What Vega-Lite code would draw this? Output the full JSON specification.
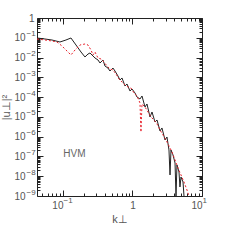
{
  "$schema": "https://vega.github.io/schema/vega-lite/v6.json",
  "width": 165,
  "height": 178,
  "autosize": {"type": "none"},
  "padding": {"left": 37, "top": 18, "right": 47, "bottom": 55},
  "background": "white",
  "config": {
    "view": {"stroke": null},
    "axis": {
      "domainColor": "#222",
      "tickColor": "#222",
      "labelFont": "Liberation Sans",
      "titleFont": "Liberation Sans",
      "labelFontSize": 10,
      "titleFontSize": 11,
      "labelColor": "#555",
      "titleColor": "#555",
      "titleFontWeight": "normal",
      "grid": false,
      "labelOverlap": false,
      "labelBound": false,
      "labelFlush": false
    }
  },
  "datasets": {
    "spectra": [
      {"s": "black", "k": 0.0423, "E": 9.75e-2},
      {"s": "black", "k": 0.0551, "E": 8.67e-2},
      {"s": "black", "k": 0.0695, "E": 7.72e-2},
      {"s": "black", "k": 0.0905, "E": 6.12e-2},
      {"s": "black", "k": 0.1104, "E": 7.72e-2},
      {"s": "black", "k": 0.1303, "E": 9.75e-2},
      {"s": "black", "k": 0.1539, "E": 4.32e-2},
      {"s": "black", "k": 0.1816, "E": 1.91e-2},
      {"s": "black", "k": 0.2073, "E": 1.07e-2},
      {"s": "black", "k": 0.2291, "E": 1.51e-2},
      {"s": "black", "k": 0.2446, "E": 1.70e-2},
      {"s": "black", "k": 0.2704, "E": 1.20e-2},
      {"s": "black", "k": 0.2886, "E": 9.50e-3},
      {"s": "black", "k": 0.3192, "E": 7.53e-3},
      {"s": "black", "k": 0.3408, "E": 5.31e-3},
      {"s": "black", "k": 0.3767, "E": 7.53e-3},
      {"s": "black", "k": 0.4018, "E": 3.74e-3},
      {"s": "black", "k": 0.4436, "E": 2.96e-3},
      {"s": "black", "k": 0.4742, "E": 2.09e-3},
      {"s": "black", "k": 0.5236, "E": 2.96e-3},
      {"s": "black", "k": 0.5598, "E": 2.09e-3},
      {"s": "black", "k": 0.6180, "E": 1.17e-3},
      {"s": "black", "k": 0.6607, "E": 7.34e-4},
      {"s": "black", "k": 0.7063, "E": 9.27e-4},
      {"s": "black", "k": 0.7798, "E": 3.65e-4},
      {"s": "black", "k": 0.8337, "E": 4.61e-4},
      {"s": "black", "k": 0.9204, "E": 2.04e-4},
      {"s": "black", "k": 0.9840, "E": 2.57e-4},
      {"s": "black", "k": 1.086, "E": 1.62e-4},
      {"s": "black", "k": 1.161, "E": 1.01e-4},
      {"s": "black", "k": 1.282, "E": 8.04e-5},
      {"s": "black", "k": 1.370, "E": 1.14e-4},
      {"s": "black", "k": 1.514, "E": 3.17e-5},
      {"s": "black", "k": 1.617, "E": 4.49e-5},
      {"s": "black", "k": 1.786, "E": 9.89e-6},
      {"s": "black", "k": 1.909, "E": 1.77e-5},
      {"s": "black", "k": 2.109, "E": 5.52e-6},
      {"s": "black", "k": 2.254, "E": 6.97e-6},
      {"s": "black", "k": 2.489, "E": 1.94e-6},
      {"s": "black", "k": 2.655, "E": 2.75e-6},
      {"s": "black", "k": 2.938, "E": 6.80e-7},
      {"s": "black", "k": 3.135, "E": 9.63e-7},
      {"s": "black", "k": 3.350, "E": 2.12e-7},
      {"s": "black", "k": 3.467, "E": 1.16e-8},
      {"s": "black", "k": 3.581, "E": 2.12e-7},
      {"s": "black", "k": 3.828, "E": 1.19e-7},
      {"s": "black", "k": 4.093, "E": 4.67e-8},
      {"s": "black", "k": 4.227, "E": 1.0e-9},
      {"s": "black", "k": 4.365, "E": 3.70e-8},
      {"s": "black", "k": 4.667, "E": 1.64e-8},
      {"s": "black", "k": 4.819, "E": 2.86e-9},
      {"s": "black", "k": 4.989, "E": 9.16e-9},
      {"s": "black", "k": 5.333, "E": 5.12e-9},
      {"s": "black", "k": 5.508, "E": 1.0e-9},
      {"s": "red", "k": 0.0423, "E": 8.67e-2},
      {"s": "red", "k": 0.0551, "E": 7.72e-2},
      {"s": "red", "k": 0.0695, "E": 6.87e-2},
      {"s": "red", "k": 0.0820, "E": 6.12e-2},
      {"s": "red", "k": 0.0968, "E": 3.84e-2},
      {"s": "red", "k": 0.1104, "E": 2.41e-2},
      {"s": "red", "k": 0.1303, "E": 1.35e-2},
      {"s": "red", "k": 0.1489, "E": 2.41e-2},
      {"s": "red", "k": 0.1757, "E": 4.32e-2},
      {"s": "red", "k": 0.2073, "E": 4.85e-2},
      {"s": "red", "k": 0.2291, "E": 4.32e-2},
      {"s": "red", "k": 0.2529, "E": 2.41e-2},
      {"s": "red", "k": 0.2704, "E": 1.35e-2},
      {"s": "red", "k": 0.2886, "E": 1.91e-2},
      {"s": "red", "k": 0.3192, "E": 9.50e-3},
      {"s": "red", "k": 0.3524, "E": 8.46e-3},
      {"s": "red", "k": 0.3893, "E": 5.97e-3},
      {"s": "red", "k": 0.4295, "E": 3.74e-3},
      {"s": "red", "k": 0.4742, "E": 2.64e-3},
      {"s": "red", "k": 0.5236, "E": 2.35e-3},
      {"s": "red", "k": 0.5794, "E": 1.48e-3},
      {"s": "red", "k": 0.6397, "E": 8.24e-4},
      {"s": "red", "k": 0.7063, "E": 5.81e-4},
      {"s": "red", "k": 0.7798, "E": 4.10e-4},
      {"s": "red", "k": 0.8610, "E": 3.25e-4},
      {"s": "red", "k": 0.9506, "E": 2.89e-4},
      {"s": "red", "k": 1.052, "E": 1.62e-4},
      {"s": "red", "k": 1.161, "E": 1.14e-4},
      {"s": "red", "k": 1.282, "E": 5.05e-5},
      {"s": "red", "k": 1.324, "E": 1.72e-6},
      {"s": "red", "k": 1.370, "E": 4.49e-5},
      {"s": "red", "k": 1.514, "E": 3.17e-5},
      {"s": "red", "k": 1.671, "E": 1.77e-5},
      {"s": "red", "k": 1.845, "E": 9.89e-6},
      {"s": "red", "k": 2.039, "E": 6.97e-6},
      {"s": "red", "k": 2.254, "E": 4.38e-6},
      {"s": "red", "k": 2.489, "E": 2.18e-6},
      {"s": "red", "k": 2.748, "E": 1.22e-6},
      {"s": "red", "k": 3.034, "E": 6.80e-7},
      {"s": "red", "k": 3.350, "E": 3.38e-7},
      {"s": "red", "k": 3.700, "E": 1.68e-7},
      {"s": "red", "k": 4.093, "E": 6.62e-8},
      {"s": "red", "k": 4.519, "E": 2.61e-8},
      {"s": "red", "k": 4.989, "E": 1.16e-8},
      {"s": "red", "k": 5.508, "E": 5.12e-9},
      {"s": "red", "k": 6.081, "E": 2.01e-9},
      {"s": "red", "k": 6.501, "E": 1.0e-9}
    ],
    "labels": [{"k": 0.146, "E": 1.33e-7, "text": "HVM"}]
  },
  "data": {"name": "spectra"},
  "resolve": {"axis": {"x": "independent", "y": "independent"}},
  "layer": [
    {
      "transform": [{"filter": "datum.s == 'black'"}],
      "mark": {"type": "line", "color": "#222", "strokeWidth": 1, "clip": true},
      "encoding": {
        "x": {
          "field": "k", "type": "quantitative",
          "scale": {"type": "log", "domain": [0.0423, 10], "nice": false},
          "axis": {
            "orient": "bottom", "title": "k⊥",
            "values": [0.05,0.06,0.07,0.08,0.09,0.1,0.2,0.3,0.4,0.5,0.6,0.7,0.8,0.9,1,2,3,4,5,6,7,8,9,10],
            "tickSize": {"condition": {"test": "abs(log(datum.value)/LN10 - round(log(datum.value)/LN10)) < 0.01", "value": -6}, "value": -3},
            "labelExpr": "abs(log(datum.value)/LN10 - round(log(datum.value)/LN10)) < 0.01 ? (abs(datum.value - 1) < 0.01 ? '1' : '10') : ''",
            "labelAlign": {"condition": {"test": "abs(datum.value - 1) < 0.01", "value": "center"}, "value": "right"},
            "labelBaseline": "top",
            "labelPadding": 10,
            "titlePadding": 0
          }
        },
        "y": {
          "field": "E", "type": "quantitative",
          "scale": {"type": "log", "domain": [1e-9, 1], "nice": false},
          "axis": {
            "orient": "left", "title": "|u⊥|²",
            "values": [1e-9,2e-9,3e-9,4e-9,5e-9,6e-9,7e-9,8e-9,9e-9,1e-8,2e-8,3e-8,4e-8,5e-8,6e-8,7e-8,8e-8,9e-8,1e-7,2e-7,3e-7,4e-7,5e-7,6e-7,7e-7,8e-7,9e-7,1e-6,2e-6,3e-6,4e-6,5e-6,6e-6,7e-6,8e-6,9e-6,1e-5,2e-5,3e-5,4e-5,5e-5,6e-5,7e-5,8e-5,9e-5,1e-4,2e-4,3e-4,4e-4,5e-4,6e-4,7e-4,8e-4,9e-4,0.001,0.002,0.003,0.004,0.005,0.006,0.007,0.008,0.009,0.01,0.02,0.03,0.04,0.05,0.06,0.07,0.08,0.09,0.1,0.2,0.3,0.4,0.5,0.6,0.7,0.8,0.9,1],
            "tickSize": {"condition": {"test": "abs(log(datum.value)/LN10 - round(log(datum.value)/LN10)) < 0.01", "value": -6}, "value": -3},
            "labelExpr": "abs(log(datum.value)/LN10 - round(log(datum.value)/LN10)) < 0.01 ? (abs(datum.value - 1) < 0.01 ? '1' : '10') : ''",
            "labelAlign": "right",
            "labelPadding": {"condition": {"test": "abs(datum.value - 1) < 0.01", "value": 9}, "value": 18},
            "titlePadding": 2
          }
        }
      }
    },
    {
      "transform": [{"filter": "datum.s == 'red'"}],
      "mark": {"type": "line", "color": "#e8202a", "strokeWidth": 1, "strokeDash": [2, 2], "clip": true},
      "encoding": {
        "x": {
          "field": "k", "type": "quantitative",
          "scale": {"type": "log", "domain": [0.0423, 10], "nice": false},
          "axis": {
            "orient": "top", "title": null, "labels": false,
            "values": [0.05,0.06,0.07,0.08,0.09,0.1,0.2,0.3,0.4,0.5,0.6,0.7,0.8,0.9,1,2,3,4,5,6,7,8,9,10],
            "tickSize": {"condition": {"test": "abs(log(datum.value)/LN10 - round(log(datum.value)/LN10)) < 0.01", "value": -6}, "value": -3}
          }
        },
        "y": {
          "field": "E", "type": "quantitative",
          "scale": {"type": "log", "domain": [1e-9, 1], "nice": false},
          "axis": {
            "orient": "right", "title": null, "labels": false,
            "values": [1e-9,2e-9,3e-9,4e-9,5e-9,6e-9,7e-9,8e-9,9e-9,1e-8,2e-8,3e-8,4e-8,5e-8,6e-8,7e-8,8e-8,9e-8,1e-7,2e-7,3e-7,4e-7,5e-7,6e-7,7e-7,8e-7,9e-7,1e-6,2e-6,3e-6,4e-6,5e-6,6e-6,7e-6,8e-6,9e-6,1e-5,2e-5,3e-5,4e-5,5e-5,6e-5,7e-5,8e-5,9e-5,1e-4,2e-4,3e-4,4e-4,5e-4,6e-4,7e-4,8e-4,9e-4,0.001,0.002,0.003,0.004,0.005,0.006,0.007,0.008,0.009,0.01,0.02,0.03,0.04,0.05,0.06,0.07,0.08,0.09,0.1,0.2,0.3,0.4,0.5,0.6,0.7,0.8,0.9,1],
            "tickSize": {"condition": {"test": "abs(log(datum.value)/LN10 - round(log(datum.value)/LN10)) < 0.01", "value": -6}, "value": -3}
          }
        }
      }
    },
    {
      "data": {"name": "labels"},
      "mark": {"type": "text", "font": "Liberation Sans", "fontSize": 10, "color": "#666"},
      "encoding": {
        "x": {
          "field": "k", "type": "quantitative",
          "scale": {"type": "log", "domain": [0.0423, 10], "nice": false},
          "axis": {
            "orient": "bottom", "title": null, "domain": false,
            "values": [0.1, 1, 10],
            "tickSize": -6, "tickOpacity": 0,
            "labelExpr": "datum.value < 0.5 ? '−1' : (datum.value > 5 ? '1' : '')",
            "labelAlign": "left",
            "labelBaseline": "top",
            "labelFontSize": 8,
            "labelPadding": 6
          }
        },
        "y": {
          "field": "E", "type": "quantitative",
          "scale": {"type": "log", "domain": [1e-9, 1], "nice": false},
          "axis": {
            "orient": "left", "title": null, "domain": false,
            "values": [1e-9,1e-8,1e-7,1e-6,1e-5,1e-4,0.001,0.01,0.1],
            "tickSize": -6, "tickOpacity": 0,
            "labelExpr": "'−' + round(-log(datum.value)/LN10)",
            "labelAlign": "left",
            "labelFontSize": 8,
            "labelOffset": -4,
            "labelPadding": 17
          }
        },
        "text": {"field": "text"}
      }
    }
  ]
}
